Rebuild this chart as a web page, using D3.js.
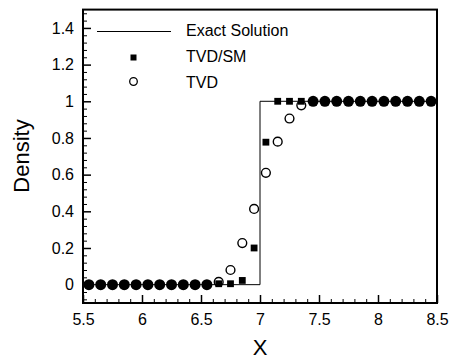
<!DOCTYPE html>
<html>
<head>
<meta charset="utf-8">
<script src="https://cdn.jsdelivr.net/npm/d3@7"></script>
<style>
  body { margin: 0; background: #fff; }
  svg { display: block; font-family: "Liberation Sans", Arial, Helvetica, sans-serif; }
</style>
</head>
<body>
<svg id="chart"></svg>
<script>
// Cell-centre positions and density values
const xs = [5.55, 5.65, 5.75, 5.85, 5.95, 6.05, 6.15, 6.25, 6.35, 6.45, 6.55,
            6.65, 6.75, 6.85, 6.95, 7.05, 7.15, 7.25, 7.35,
            7.45, 7.55, 7.65, 7.75, 7.85, 7.95, 8.05, 8.15, 8.25, 8.35, 8.45];
const tvdsm = [0, 0, 0, 0, 0, 0, 0, 0, 0, 0, 0,
               0.005, 0.005, 0.023, 0.20, 0.777, 1.0, 1.0, 1.0,
               1, 1, 1, 1, 1, 1, 1, 1, 1, 1, 1];
const tvd = [0, 0, 0, 0, 0, 0, 0, 0, 0, 0, 0,
             0.015, 0.08, 0.227, 0.413, 0.61, 0.78, 0.906, 0.978,
             1, 1, 1, 1, 1, 1, 1, 1, 1, 1, 1];
const exactX = [5.5, 7.0, 7.0, 8.5];
const exactY = [0, 0, 1, 1];

const xTicks = [5.5, 6, 6.5, 7, 7.5, 8, 8.5];
const xTickLabels = ["5.5", "6", "6.5", "7", "7.5", "8", "8.5"];
const yTicks = [0, 0.2, 0.4, 0.6, 0.8, 1, 1.2, 1.4];
const yTickLabels = ["0", "0.2", "0.4", "0.6", "0.8", "1", "1.2", "1.4"];
const legendLabels = ["Exact Solution", "TVD/SM", "TVD"];

const width = 449, height = 361;
const margin = { top: 9.6, right: 12, bottom: 58, left: 83 };

const svg = d3.select("#chart")
    .attr("width", width)
    .attr("height", height);

const x = d3.scaleLinear().domain([5.5, 8.5]).range([margin.left, width - margin.right]);
const y = d3.scaleLinear().domain([-0.1, 1.5]).range([height - margin.bottom, margin.top]);

// minor ticks (inward)
const xMinor = d3.range(56, 85).map(d => d / 10).filter(d => !xTicks.includes(d));
const yMinor = d3.range(-2, 38).map(d => +(d * 0.04).toFixed(2)).filter(d => !yTicks.some(t => Math.abs(t - d) < 1e-6));

svg.append("g")
    .attr("transform", `translate(0,${y.range()[0]})`)
    .call(d3.axisBottom(x).tickValues(xMinor).tickSize(-4).tickFormat(""))
    .call(g => g.select(".domain").remove())
    .call(g => g.selectAll("line").attr("stroke-width", 1));

svg.append("g")
    .attr("transform", `translate(${margin.left},0)`)
    .call(d3.axisLeft(y).tickValues(yMinor).tickSize(-4).tickFormat(""))
    .call(g => g.select(".domain").remove())
    .call(g => g.selectAll("line").attr("stroke-width", 1));

// major ticks with labels
svg.append("g")
    .attr("transform", `translate(0,${y.range()[0]})`)
    .call(d3.axisBottom(x).tickValues(xTicks).tickSize(-8).tickPadding(11)
        .tickFormat((d, i) => xTickLabels[i]))
    .call(g => g.select(".domain").remove())
    .call(g => g.selectAll("line").attr("stroke-width", 1.5))
    .call(g => g.selectAll("text").attr("font-size", 16).attr("fill", "#000")
        .attr("font-family", "Liberation Sans, Arial, sans-serif"));

svg.append("g")
    .attr("transform", `translate(${margin.left},0)`)
    .call(d3.axisLeft(y).tickValues(yTicks).tickSize(-8).tickPadding(9)
        .tickFormat((d, i) => yTickLabels[i]))
    .call(g => g.select(".domain").remove())
    .call(g => g.selectAll("line").attr("stroke-width", 1.5))
    .call(g => g.selectAll("text").attr("font-size", 16).attr("fill", "#000")
        .attr("font-family", "Liberation Sans, Arial, sans-serif"));

// exact solution
const line = d3.line().x(d => x(d[0])).y(d => y(d[1]));
svg.append("path")
    .datum(exactX.map((d, i) => [d, exactY[i]]))
    .attr("d", line)
    .attr("fill", "none")
    .attr("stroke", "#000")
    .attr("stroke-width", 1);

const pts = xs.map((d, i) => ({ x: d, sm: tvdsm[i], tvd: tvd[i] }));
const same = d => Math.abs(d.sm - d.tvd) < 0.002;

// TVD open circles
svg.append("g").selectAll("circle")
    .data(pts.filter(d => !same(d)))
    .join("circle")
    .attr("cx", d => x(d.x))
    .attr("cy", d => y(d.tvd))
    .attr("r", 4.4)
    .attr("fill", "none")
    .attr("stroke", "#000")
    .attr("stroke-width", 1.4);

// TVD/SM squares
svg.append("g").selectAll("rect")
    .data(pts.filter(d => !same(d)))
    .join("rect")
    .attr("x", d => x(d.x) - 3.4)
    .attr("y", d => y(d.sm) - 3.4)
    .attr("width", 6.8)
    .attr("height", 6.8)
    .attr("fill", "#000");

// where both schemes coincide the symbols merge into a solid dot
svg.append("g").selectAll("circle")
    .data(pts.filter(same))
    .join("circle")
    .attr("cx", d => x(d.x))
    .attr("cy", d => y(d.sm))
    .attr("r", 5.5)
    .attr("fill", "#000");

// frame
svg.append("rect")
    .attr("x", margin.left)
    .attr("y", margin.top)
    .attr("width", x.range()[1] - margin.left)
    .attr("height", y.range()[0] - margin.top)
    .attr("fill", "none")
    .attr("stroke", "#000")
    .attr("stroke-width", 2);

// legend
const lg = svg.append("g").attr("font-size", 16).attr("fill", "#000");
lg.append("line")
    .attr("x1", 97).attr("x2", 171)
    .attr("y1", 31.5).attr("y2", 31.5)
    .attr("stroke", "#000").attr("stroke-width", 1);
lg.append("rect")
    .attr("x", 130.5).attr("y", 54.5).attr("width", 6).attr("height", 6)
    .attr("fill", "#000");
lg.append("circle")
    .attr("cx", 133.5).attr("cy", 81.5).attr("r", 3.8)
    .attr("fill", "none").attr("stroke", "#000").attr("stroke-width", 1.3);
lg.selectAll("text")
    .data(legendLabels)
    .join("text")
    .attr("x", 186)
    .attr("y", (d, i) => 36 + i * 26)
    .text(d => d);

// axis titles
svg.append("text")
    .attr("x", x(7))
    .attr("y", 355)
    .attr("text-anchor", "middle")
    .attr("font-size", 22)
    .text("X");

svg.append("text")
    .attr("transform", "translate(29,156) rotate(-90)")
    .attr("text-anchor", "middle")
    .attr("font-size", 22)
    .text("Density");
</script>
</body>
</html>
